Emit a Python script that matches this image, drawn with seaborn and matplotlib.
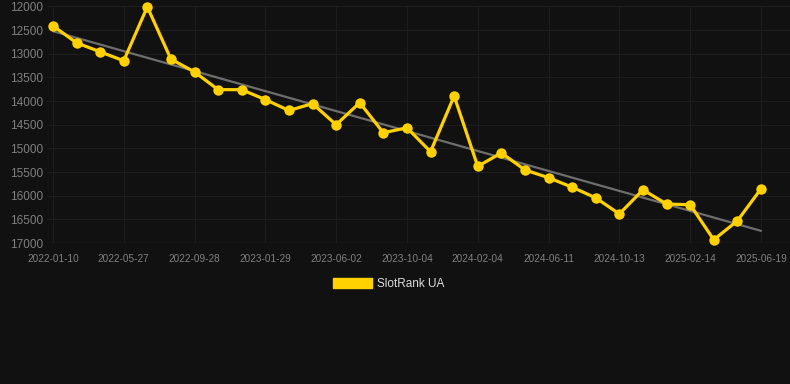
import numpy as np
import pandas as pd
import matplotlib
matplotlib.use('Agg')
import matplotlib.pyplot as plt
from matplotlib.patches import Patch
import seaborn as sns

# data
tick_labels = ['2022-01-10', '2022-05-27', '2022-09-28', '2023-01-29', '2023-06-02',
               '2023-10-04', '2024-02-04', '2024-06-11', '2024-10-13', '2025-02-14',
               '2025-06-19']
rank = [12410, 12770, 12960, 13150, 12010, 13115, 13385, 13760, 13760, 13970,
        14200, 14055, 14500, 14035, 14670, 14565, 15070, 13895, 15380, 15095,
        15455, 15620, 15820, 16045, 16385, 15875, 16175, 16190, 16930, 16530,
        15855]
point = list(range(len(rank)))
y_ticks = [12000, 12500, 13000, 13500, 14000, 14500, 15000, 15500, 16000, 16500, 17000]

df = pd.DataFrame({'point': point, 'rank': rank})

bg = '#111111'
gold = '#FFD100'

sns.set_theme(style='dark')
plt.rcParams['font.family'] = ['Liberation Sans', 'DejaVu Sans']

fig = plt.figure(figsize=(7.9, 3.84), dpi=100, facecolor=bg)
ax = fig.add_axes([0.0595, 0.367, 0.9405, 0.6165])
ax.set_facecolor(bg)

# trend line
sns.regplot(data=df, x='point', y='rank', scatter=False, ci=None, ax=ax,
            color='#6e6e6e', line_kws={'lw': 1.6, 'zorder': 2})
# main series
sns.lineplot(data=df, x='point', y='rank', ax=ax, color=gold, lw=2.3,
             marker='o', markersize=7.5, markeredgewidth=0, zorder=3)
for l in ax.lines:
    l.set_clip_on(False)

ax.set_ylim(17000, 12000)
ax.set_xlim(-0.25, 31.23)
ax.set_yticks(y_ticks)
ax.set_yticklabels([str(v) for v in y_ticks])
ax.set_xticks(point[::3])
ax.set_xticklabels(tick_labels)
ax.grid(True, color='#1d1d1d', lw=0.8)
ax.axhline(17000, color='#2a2a2a', lw=0.9, zorder=1)
ax.tick_params(axis='y', colors='#808080', labelsize=8.5, length=0, pad=3)
ax.tick_params(axis='x', colors='#808080', labelsize=7.2, length=4, width=0.8, pad=4)
for t in ax.get_xticklines():
    t.set_color('#2a2a2a')
for s in ax.spines.values():
    s.set_visible(False)
ax.set_xlabel('')
ax.set_ylabel('')

fig.legend(handles=[Patch(facecolor=gold, edgecolor=gold)], labels=['SlotRank UA'],
           loc='center', bbox_to_anchor=(0.492, 0.26), frameon=False,
           handlelength=3.3, handleheight=0.9, handletextpad=0.5,
           fontsize=8.5, labelcolor='#dddddd')

fig.savefig('out.png', dpi=100, facecolor=bg)
